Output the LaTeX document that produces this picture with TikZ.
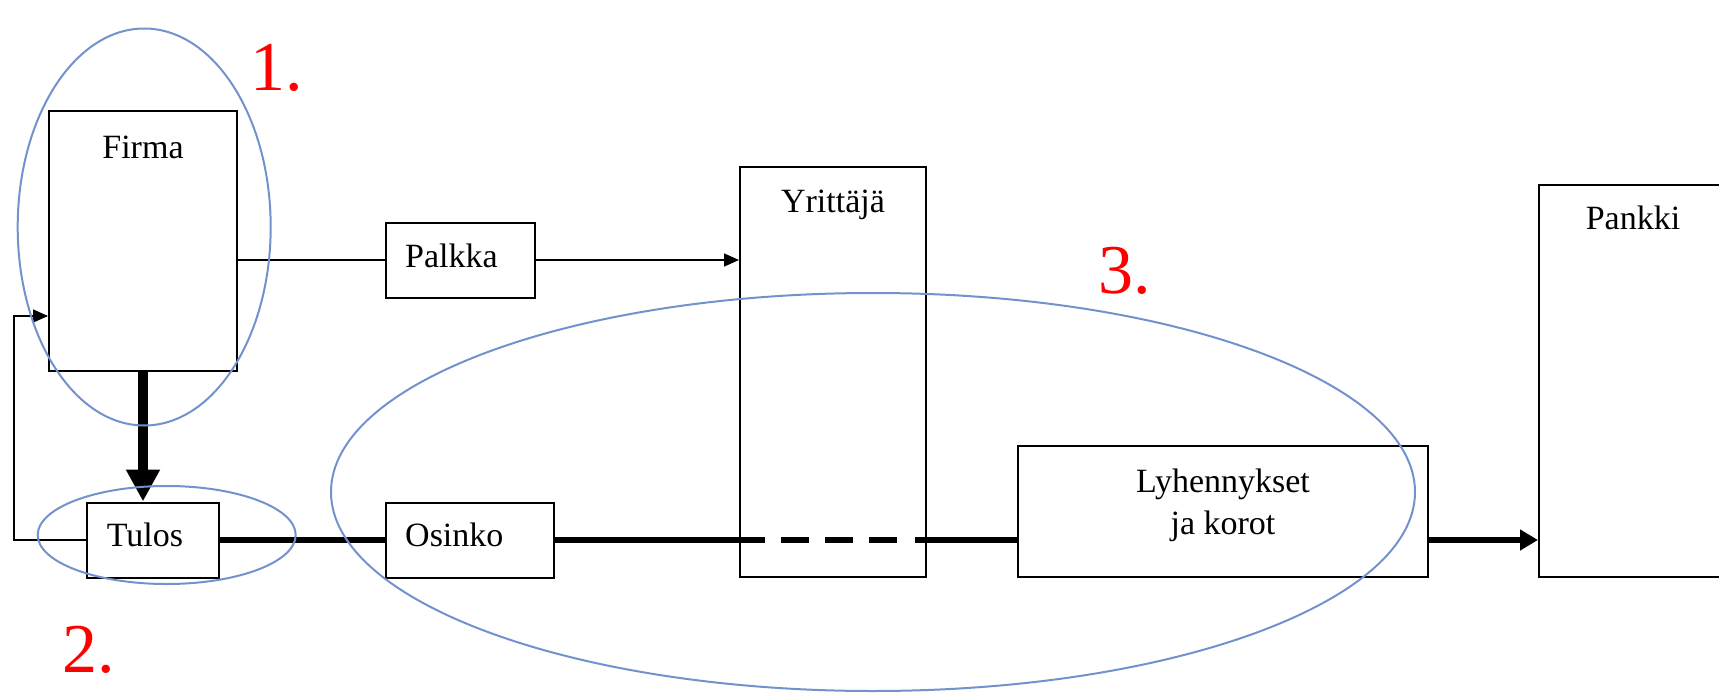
\documentclass[tikz,border=0pt]{standalone}
\usepackage{fontspec}
\setmainfont{Liberation Serif}
\usetikzlibrary{arrows.meta,shapes.geometric}
\definecolor{ellblue}{RGB}{114,146,206}
\definecolor{markred}{RGB}{255,0,0}
\tikzset{
  boxnode/.style={draw=black, line width=2pt, inner sep=0pt, rectangle},
  lbl/.style={font=\fontsize{34}{42}\selectfont, inner sep=0pt},
  marklbl/.style={font=\fontsize{70}{84}\selectfont, text=markred, inner sep=0pt, anchor=base west},
  thinline/.style={line width=1.6pt},
  thinarrow/.style={line width=1.6pt, -{Triangle[length=15pt,width=13pt]}},
  thickline/.style={line width=6pt},
  thickarrow/.style={line width=6pt, -{Triangle[length=18pt,width=20pt]}},
  bigarrow/.style={line width=10pt, -{Triangle[length=32pt,width=32pt]}},
  ellnode/.style={draw=ellblue, line width=2pt, ellipse, inner sep=0pt}
}
\begin{document}
\begin{tikzpicture}[x=1pt,y=-1pt]
\useasboundingbox (0,0) rectangle (1719,693);
% boxes
\node[boxnode, minimum width=188pt, minimum height=260pt] (firma) at (143,241) {};
\node[boxnode, minimum width=132pt, minimum height=75pt] (tulos) at (153,540) {};
\node[boxnode, minimum width=149pt, minimum height=75pt] (palkka) at (460.5,260) {};
\node[boxnode, minimum width=168pt, minimum height=75pt] (osinko) at (470,540) {};
\node[boxnode, minimum width=186pt, minimum height=410pt] (yrittaja) at (833,372) {};
\node[boxnode, minimum width=410pt, minimum height=131pt] (lyh) at (1223,511.5) {};
\node[boxnode, minimum width=221pt, minimum height=392pt] (pankki) at (1649.5,381) {};
% texts
\node[lbl, anchor=base] (firmat) at (143,158) {Firma};
\node[lbl, anchor=base] (yrittajat) at (833,212) {Yrittäjä};
\node[lbl, anchor=base] (pankkit) at (1633,229) {Pankki};
\node[lbl, anchor=base west] (palkkat) at (405,267.3) {Palkka};
\node[lbl, anchor=base west] (osinkot) at (405,546.7) {Osinko};
\node[lbl, anchor=base west] (tulost) at (106.7,546.7) {Tulos};
\node[lbl, align=center, anchor=center] (lyht) at (1223,505) {Lyhennykset\\ja korot};
% marks
\node[marklbl] (m1) at (250,91) {1.};
\node[marklbl] (m2) at (62,672.7) {2.};
\node[marklbl] (m3) at (1098,293) {3.};
% connectors
\coordinate (fb) at (14,316);
\draw[thinarrow] (tulos.west) -| (fb) -- (fb -| firma.west);
\draw[thinline] (firma.east |- palkka.west) -- (palkka.west);
\draw[thinarrow] (palkka.east) -- (palkka.east -| yrittaja.west);
\draw[bigarrow] (firma.south) -- (firma.south |- tulos.north);
\draw[thickline] (tulos.east) -- (osinko.west);
\coordinate (s1) at (765,540);
\coordinate (d1) at (781,540);
\coordinate (d2) at (897,540);
\coordinate (s2) at (915,540);
\draw[thickline] (osinko.east) -- (s1);
\draw[thickline, dash pattern=on 28pt off 16pt] (d1) -- (d2);
\draw[thickline] (s2) -- (lyh.west |- s2);
\draw[thickarrow] (lyh.east |- s2) -- (pankki.west |- s2);
% ellipses
\node[ellnode, minimum width=253pt, minimum height=397pt] (e1) at (144.2,227) {};
\node[ellnode, minimum width=258pt, minimum height=98pt] (e2) at (166.7,535) {};
\node[ellnode, minimum width=1084pt, minimum height=398pt] (e3) at (873,492) {};
\end{tikzpicture}
\end{document}
